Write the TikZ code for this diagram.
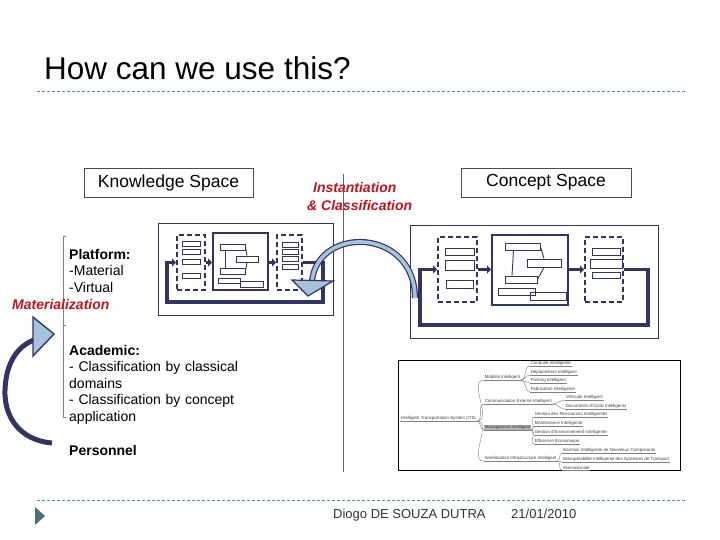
\documentclass[tikz,border=0pt]{standalone}
\usepackage{fontspec}
\setmainfont{Liberation Sans}
\usetikzlibrary{arrows.meta}
\definecolor{navy}{RGB}{51,51,102}
\definecolor{lblue}{RGB}{165,195,218}
\definecolor{rulecol}{RGB}{95,140,145}
\definecolor{accred}{RGB}{195,18,28}
\tikzset{
  hdr/.style={draw=black!70, line width=0.8pt, minimum height=29pt, font=\fontsize{17.5}{20}\selectfont},
  txt/.style={anchor=base west, inner sep=0pt, align=left, text width=220pt, font=\fontsize{14}{16.6}\selectfont},
  redlbl/.style={anchor=base west, inner sep=0pt, text=accred, font=\fontsize{14}{16}\selectfont\bfseries\itshape},
  frm/.style={draw=navy, line width=0.8pt},
  dbox/.style={draw=navy, line width=2pt, dash pattern=on 5pt off 3pt},
  sbox/.style={draw=navy, line width=2pt},
  tbox/.style={draw=navy, line width=0.9pt},
  flow/.style={draw=navy, line width=3.5pt, -{Triangle[length=4pt, width=8pt]}},
  mm/.style={anchor=south west, inner sep=0.6pt, text=black!75, font=\fontsize{4.4}{5}\selectfont},
  mmline/.style={draw=black!50, line width=0.4pt}
}
\begin{document}
\begin{tikzpicture}[x=1pt, y=-1pt]
  \useasboundingbox (0,0) rectangle (720,540);
  % header and footer
  \node[anchor=base west, inner sep=0pt, font=\fontsize{31.5}{36}\selectfont] (title) at (44,80) {How can we use this?};
  \draw[rulecol, line width=0.8pt, dash pattern=on 3pt off 2pt] (37,91) -- (685,91);
  \draw[rulecol, line width=0.8pt, dash pattern=on 3pt off 2pt] (37,500) -- (685,500);
  \fill[rulecol!80!black] (35,507) -- (45,516) -- (35,525) -- cycle;
  \node[anchor=base west, inner sep=0pt, text=black!80, font=\fontsize{13}{15}\selectfont] (auth) at (333,518) {Diogo DE SOUZA DUTRA};
  \node[anchor=base west, inner sep=0pt, text=black!80, font=\fontsize{13}{15}\selectfont] (date) at (511,518) {21/01/2010};

  % separators
  \draw[black!60, line width=0.8pt] (343,174) -- (343,472);
  \draw[black!50, line width=0.6pt] (66,236) -- (63,236) -- (63,417) -- (66,417);
  \draw[black!50, line width=0.6pt] (63,325) -- (66,325);

  % titles
  \node[hdr, minimum width=169pt] (ks) at (168.5,182.5) {Knowledge Space};
  \node[hdr, minimum width=170pt] (cs) at (546,182.5) {Concept Space};
  \node[redlbl] (inst) at (313,193) {Instantiation};
  \node[redlbl] (cls) at (307,211) {\& Classification};
  \node[redlbl] (mat) at (12,309) {Materialization};

  % left texts
  \node[txt] (plat) at (69,259) {\textbf{Platform:}\\-Material\\-Virtual};
  \node[txt] (acad) at (69,355) {\textbf{Academic:}\\- Classification by classical\\domains\\- Classification by concept\\application};
  \node[txt] (pers) at (69,455) {\textbf{Personnel}};

  % knowledge space diagram
  \draw[frm] (158,223) rectangle (333,315);
  \node[dbox, minimum width=28pt, minimum height=55pt] (kin) at (191,262.5) {};
  \node[sbox, minimum width=55pt, minimum height=57pt] (kmid) at (240.5,261.5) {};
  \node[dbox, minimum width=25pt, minimum height=55pt] (kout) at (289.5,262.5) {};
  \foreach \y in {244,252,262,276} \draw[tbox] (182,\y-2.5) rectangle (200,\y+2.5);
  \foreach \y in {245,252,259,267} \draw[tbox] (282,\y-2.5) rectangle (298,\y+2.5);
  \node[tbox, minimum width=25pt, minimum height=6pt, inner sep=0pt] (kt) at (232.5,247) {};
  \node[tbox, minimum width=22pt, minimum height=6pt, inner sep=0pt] (kr) at (247,259) {};
  \node[tbox, minimum width=25pt, minimum height=6pt, inner sep=0pt] (kb) at (232.5,271) {};
  \draw[tbox] (218,278) rectangle (240,283);
  \draw[tbox] (240,281) rectangle (263,287);
  \draw[tbox] ([xshift=-7pt]kt.south) -- ([xshift=-7pt]kb.north);
  \draw[tbox] (kt.east) -- (kr.north);
  \draw[tbox] (kr.south) -- (kb.east);
  \draw[flow] (kin.east) -- (kmid.west |- kin.east);
  \draw[flow] (kmid.east |- kin.east) -- (kout.west);
  \draw[flow] (kout.east) -- ++(20,0) |- (167,302) |- (kin.west);

  % concept space diagram
  \draw[frm] (410,225) rectangle (658,338);
  \node[dbox, minimum width=39pt, minimum height=65pt] (cin) at (457.5,269.5) {};
  \node[sbox, minimum width=76pt, minimum height=70pt] (cmid) at (530,270) {};
  \node[dbox, minimum width=38pt, minimum height=65pt] (cout) at (604,269.5) {};
  \draw[tbox] (445,248) rectangle (474,255);
  \draw[tbox] (445,260) rectangle (474,270);
  \draw[tbox] (446,280) rectangle (473,288);
  \draw[tbox] (592,248) rectangle (620,255);
  \draw[tbox] (590,259) rectangle (622,268);
  \draw[tbox] (592,272) rectangle (620,278);
  \node[tbox, minimum width=35pt, minimum height=7pt, inner sep=0pt] (ct) at (522.5,246.5) {};
  \node[tbox, minimum width=34pt, minimum height=8pt, inner sep=0pt] (cr) at (544,263) {};
  \node[tbox, minimum width=32pt, minimum height=7pt, inner sep=0pt] (cb) at (521,279.5) {};
  \draw[tbox] (498,288) rectangle (535,295);
  \draw[tbox] (530,292) rectangle (566,300);
  \draw[tbox] ([xshift=-9pt]ct.south) -- ([xshift=-9pt]cb.north);
  \draw[tbox] (ct.east) -- (cr.north);
  \draw[tbox] (cr.south) -- (cb.east);
  \draw[flow] (cin.east) -- (cmid.west |- cin.east);
  \draw[flow] (cmid.east |- cin.east) -- (cout.west);
  \draw[flow] (cout.east) -- ++(24,0) |- (420,325) |- (cin.west);

  % instantiation arrow
  \coordinate (ctail) at (415,298);
  \coordinate (khead) at (312,281);
  \draw[navy, line width=6pt] (ctail) .. controls (415,228) and (318,225) .. (khead);
  \draw[lblue, line width=3.6pt] (ctail) .. controls (415,228) and (318,225) .. (khead);
  \filldraw[fill=lblue, draw=navy, line width=1.2pt] (292,280) -- (333,281) -- (308,296) -- cycle;

  % materialization arrow
  \coordinate (lstart) at (52,443);
  \coordinate (lend) at (34,340);
  \draw[navy, line width=5pt] (lstart) .. controls (18,440) and (4,415) .. (5,390) .. controls (6,362) and (18,346) .. (lend);
  \filldraw[fill=lblue, draw=navy, line width=1.4pt] (33,317) -- (54,334) -- (33,356) -- cycle;

  % mind map
  \draw[black, line width=0.8pt] (398,360) rectangle (680,470);
  \node[mm] (its) at (400,421) {Intelligent Transportation System (ITS)};
  \node[mm] (mob) at (484,380) {Mobilité Intelligent};
  \node[mm] (com) at (484,404) {Communication Externe Intelligent};
  \node[mm, fill=black!30] (mgt) at (484,430) {Management Intelligent};
  \node[mm] (inf) at (484,461) {Amélioration Infrastructure Intelligent};
  \foreach \n/\t/\y in {mobA/Conduite Intelligente/366, mobB/Déplacement Intelligent/375,
      mobC/Parking Intelligent/383, mobD/Fabrication Intelligente/392}
    \node[mm] (\n) at (530,\y) {\t};
  \foreach \n/\t/\y in {comA/Véhicule Intelligent/400, comB/Documents d'Outils Intelligents/409}
    \node[mm] (\n) at (565,\y) {\t};
  \foreach \n/\t/\y in {mgtA/Gestion des Ressources Intelligentes/417, mgtB/Maintenance Intelligente/426,
      mgtC/Gestion d'Environnement Intelligente/435, mgtD/Efficience Economique/444}
    \node[mm] (\n) at (534,\y) {\t};
  \foreach \n/\t/\y in {infA/Insertion Intelligente de Nouveaux Composants/453,
      infB/Interopérabilité Intelligente des Systèmes de Transport/462, infC/Internationale/470}
    \node[mm] (\n) at (562,\y) {\t};
  \foreach \n in {its,mob,com,mgt,inf,mobA,mobB,mobC,mobD,comA,comB,mgtA,mgtB,mgtC,mgtD,infA,infB,infC}
    \draw[mmline] (\n.south west) -- (\n.south east);
  \foreach \p/\c in {its/mob, its/com, its/mgt, its/inf, mob/mobA, mob/mobB, mob/mobC, mob/mobD,
      com/comA, com/comB, mgt/mgtA, mgt/mgtB, mgt/mgtC, mgt/mgtD, inf/infA, inf/infB, inf/infC}
    \draw[mmline] (\p.south east) to[out=0, in=180] (\c.south west);
\end{tikzpicture}
\end{document}
